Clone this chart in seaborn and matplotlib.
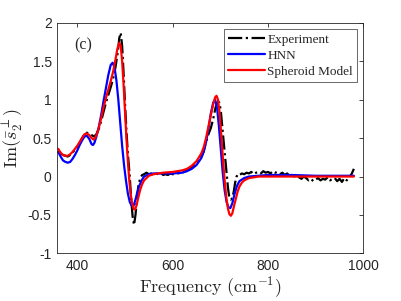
import matplotlib
matplotlib.use('Agg')
import matplotlib.pyplot as plt
import seaborn as sns
import pandas as pd

# values
exp_freq = [360, 365, 370, 375, 380, 385, 390, 395, 400, 405, 410, 415, 420, 425, 430, 435,
            440, 445, 450, 455, 460, 465, 470, 475, 480, 485, 488, 491, 494, 497, 500, 503,
            506, 510, 513, 516, 519, 522, 525, 528, 532, 536, 540, 545, 550, 555, 560, 565,
            570, 575, 580, 585, 590, 595, 600, 610, 620, 630, 640, 650, 660, 665, 670, 675,
            680, 685, 690, 695, 698, 701, 704, 707, 710, 713, 716, 719, 722, 725, 728, 731,
            734, 737, 740, 745, 750, 755, 760, 765, 770, 775, 780, 785, 790, 795, 800, 805,
            810, 815, 820, 825, 830, 835, 840, 845, 850, 855, 860, 865, 870, 875, 880, 885,
            890, 895, 900, 905, 910, 915, 920, 925, 930, 935, 940, 945, 950, 955, 960, 965,
            970, 975, 980]
exp_vals = [0.33, 0.30, 0.28, 0.27, 0.26, 0.28, 0.31, 0.35, 0.39, 0.44, 0.50, 0.55, 0.57, 0.56, 0.54, 0.52,
            0.55, 0.62, 0.72, 0.84, 0.96, 1.06, 1.16, 1.27, 1.42, 1.62, 1.80, 1.87, 1.70, 1.35, 0.95, 0.60,
            0.30, 0.00, -0.30, -0.52, -0.63, -0.50, -0.30, -0.12, -0.02, 0.02, 0.03, 0.05, 0.03, 0.04, 0.02, 0.04,
            0.03, 0.05, 0.02, 0.03, 0.02, 0.04, 0.03, 0.04, 0.05, 0.08, 0.12, 0.17, 0.26, 0.33, 0.45, 0.55,
            0.63, 0.75, 0.90, 0.98, 0.96, 0.85, 0.65, 0.45, 0.25, 0.05, -0.15, -0.28, -0.30, -0.28, -0.20, -0.08,
            0.00, 0.03, 0.02, 0.04, 0.03, 0.05, 0.04, 0.06, 0.03, 0.05, 0.06, 0.04, 0.07, 0.05, 0.06, 0.04,
            0.07, 0.05, 0.06, 0.03, 0.05, 0.02, 0.04, 0.01, 0.03, 0.00, 0.02, -0.01, -0.03, 0.00, -0.02, -0.05,
            -0.03, -0.06, -0.04, -0.02, -0.05, -0.03, -0.04, -0.01, -0.05, -0.03, -0.02, -0.06, -0.03, -0.07, -0.02, -0.05,
            -0.01, 0.03, 0.10]

hnn_freq = [360, 365, 370, 375, 380, 385, 390, 395, 400, 405, 410, 415, 420, 425, 430, 433,
            436, 440, 445, 450, 455, 460, 465, 470, 474, 478, 482, 486, 490, 494, 498, 502,
            506, 510, 514, 518, 522, 526, 530, 535, 540, 550, 560, 580, 600, 620, 630, 640,
            650, 660, 665, 670, 675, 680, 685, 689, 693, 697, 701, 705, 709, 713, 717, 721,
            725, 730, 735, 740, 750, 760, 800, 850, 900, 980]
hnn_vals = [0.32, 0.26, 0.21, 0.19, 0.18, 0.19, 0.23, 0.28, 0.34, 0.41, 0.47, 0.52, 0.53, 0.49, 0.42, 0.41,
            0.44, 0.52, 0.64, 0.80, 0.98, 1.15, 1.32, 1.45, 1.48, 1.42, 1.25, 1.00, 0.70, 0.40, 0.15, -0.05,
            -0.22, -0.33, -0.38, -0.38, -0.30, -0.20, -0.12, -0.05, 0.00, 0.03, 0.04, 0.04, 0.04, 0.05, 0.07, 0.10,
            0.15, 0.24, 0.32, 0.45, 0.62, 0.82, 0.96, 1.00, 0.90, 0.65, 0.35, 0.05, -0.18, -0.33, -0.40, -0.41,
            -0.35, -0.22, -0.12, -0.06, -0.02, 0.00, 0.02, 0.02, 0.01, 0.01]

sph_freq = [360, 365, 370, 375, 380, 385, 390, 395, 400, 405, 410, 415, 420, 425, 430, 434,
            438, 442, 446, 450, 455, 460, 465, 470, 475, 480, 484, 488, 491, 494, 497, 500,
            503, 506, 509, 512, 515, 518, 521, 524, 528, 532, 536, 540, 550, 560, 580, 600,
            620, 630, 640, 650, 660, 665, 670, 675, 680, 685, 689, 692, 695, 698, 701, 704,
            707, 710, 713, 716, 719, 722, 725, 728, 732, 736, 740, 745, 750, 760, 780, 800,
            900, 980]
sph_vals = [0.36, 0.31, 0.28, 0.27, 0.27, 0.29, 0.32, 0.36, 0.40, 0.45, 0.50, 0.55, 0.56, 0.54, 0.50, 0.48,
            0.51, 0.57, 0.66, 0.76, 0.90, 1.02, 1.13, 1.24, 1.36, 1.52, 1.66, 1.74, 1.70, 1.50, 1.20, 0.85,
            0.50, 0.20, -0.05, -0.23, -0.35, -0.42, -0.43, -0.38, -0.27, -0.17, -0.10, -0.05, 0.01, 0.03, 0.05, 0.06,
            0.08, 0.10, 0.14, 0.20, 0.30, 0.38, 0.50, 0.65, 0.80, 0.94, 1.03, 1.05, 1.00, 0.85, 0.62, 0.35,
            0.10, -0.12, -0.30, -0.42, -0.49, -0.51, -0.48, -0.40, -0.30, -0.20, -0.13, -0.08, -0.05, -0.02, 0.00, 0.00,
            0.00, 0.00]

x_ticks = [400, 600, 800, 1000]
y_ticks = [-1, -0.5, 0, 0.5, 1, 1.5, 2]
y_tick_labels = ['-1', '-0.5', '0', '0.5', '1', '1.5', '2']

sns.set_theme(style='white')
plt.rcParams['font.family'] = ['Liberation Sans', 'DejaVu Sans']
plt.rcParams['mathtext.fontset'] = 'cm'

exp_df = pd.DataFrame({'freq': exp_freq, 'val': exp_vals})
hnn_df = pd.DataFrame({'freq': hnn_freq, 'val': hnn_vals})
sph_df = pd.DataFrame({'freq': sph_freq, 'val': sph_vals})

fig = plt.figure(figsize=(4.02, 3.01), dpi=100)
ax = fig.add_axes([0.1425, 0.158, 0.7615, 0.7665])

sns.lineplot(data=exp_df, x='freq', y='val', ax=ax, color='black', linestyle='-.',
             linewidth=1.6, estimator=None, sort=False, label='Experiment')
sns.lineplot(data=hnn_df, x='freq', y='val', ax=ax, color='#0000ff', linewidth=1.6,
             estimator=None, sort=False, label='HNN')
sns.lineplot(data=sph_df, x='freq', y='val', ax=ax, color='#ff0000', linewidth=1.6,
             estimator=None, sort=False, label='Spheroid Model')

ax.set_xlim(358, 1000)
ax.set_ylim(-1, 2)
ax.set_xticks(x_ticks)
ax.set_yticks(y_ticks)
ax.set_yticklabels(y_tick_labels)
ax.tick_params(direction='in', length=3, width=0.6, colors='#262626', labelsize=10,
               top=True, right=True, labeltop=False, labelright=False, pad=4)
for s in ax.spines.values():
    s.set_color('#262626')
    s.set_linewidth(0.6)

ax.set_xlabel(r'$\mathrm{Frequency\ (cm^{-1})}$', fontsize=13, labelpad=1)
ax.set_ylabel(r'$\mathrm{Im}(\bar{s}_2^{\perp})$', fontsize=13, labelpad=2)

ax.text(0.055, 0.9, '(c)', transform=ax.transAxes, fontsize=11.5,
        family=['Liberation Serif', 'DejaVu Serif'], va='center', ha='left')

leg = ax.legend(loc='upper right', prop={'family': ['Liberation Serif'], 'size': 9.5},
                frameon=True, fancybox=False, borderaxespad=0.5, handlelength=2.8,
                handletextpad=0.2, labelspacing=0.3, borderpad=0.3)
leg.get_frame().set_edgecolor('#262626')
leg.get_frame().set_linewidth(0.6)

fig.savefig('out.png', dpi=100)
